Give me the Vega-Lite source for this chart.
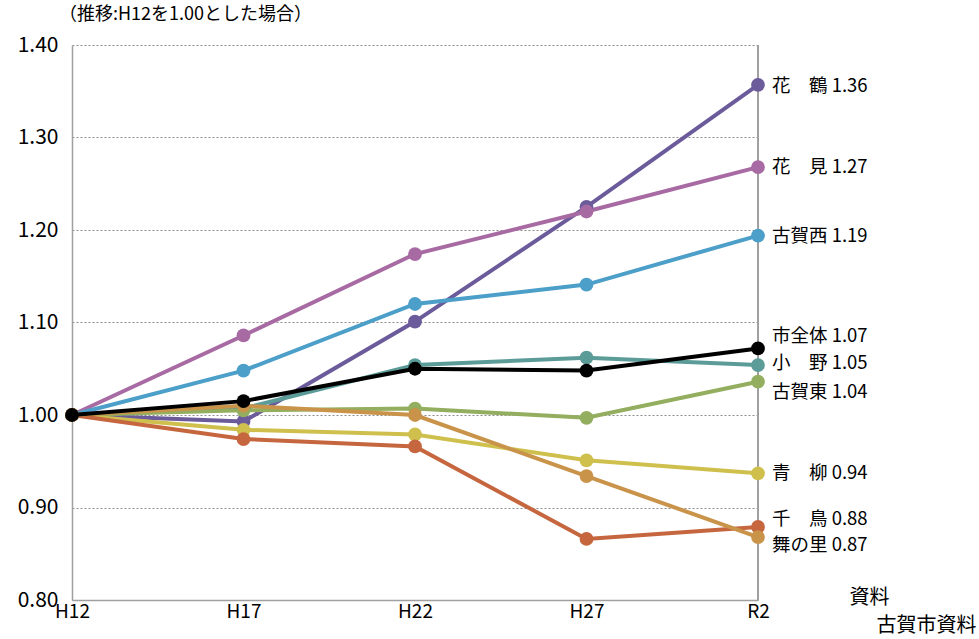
{
  "$schema": "https://vega.github.io/schema/vega-lite/v6.json",
  "width": 686,
  "height": 555,
  "autosize": "none",
  "padding": {"left": 72, "top": 45, "right": 221, "bottom": 39},
  "background": "white",
  "config": {
    "font": "Noto Sans CJK JP",
    "view": {"stroke": null}
  },
  "title": {
    "text": "（推移:H12を1.00とした場合）",
    "anchor": "start",
    "frame": "group",
    "fontSize": 18,
    "fontWeight": "normal",
    "color": "#000000",
    "dx": -13,
    "offset": 10
  },
  "datasets": {
    "series": [
      {"area": "花鶴", "year": "H12", "value": 1.0},
      {"area": "花鶴", "year": "H17", "value": 0.993},
      {"area": "花鶴", "year": "H22", "value": 1.101},
      {"area": "花鶴", "year": "H27", "value": 1.225},
      {"area": "花鶴", "year": "R2", "value": 1.357},
      {"area": "花見", "year": "H12", "value": 1.0},
      {"area": "花見", "year": "H17", "value": 1.086},
      {"area": "花見", "year": "H22", "value": 1.174},
      {"area": "花見", "year": "H27", "value": 1.220},
      {"area": "花見", "year": "R2", "value": 1.268},
      {"area": "古賀西", "year": "H12", "value": 1.0},
      {"area": "古賀西", "year": "H17", "value": 1.048},
      {"area": "古賀西", "year": "H22", "value": 1.120},
      {"area": "古賀西", "year": "H27", "value": 1.141},
      {"area": "古賀西", "year": "R2", "value": 1.194},
      {"area": "小野", "year": "H12", "value": 1.0},
      {"area": "小野", "year": "H17", "value": 1.007},
      {"area": "小野", "year": "H22", "value": 1.054},
      {"area": "小野", "year": "H27", "value": 1.062},
      {"area": "小野", "year": "R2", "value": 1.054},
      {"area": "古賀東", "year": "H12", "value": 1.0},
      {"area": "古賀東", "year": "H17", "value": 1.005},
      {"area": "古賀東", "year": "H22", "value": 1.007},
      {"area": "古賀東", "year": "H27", "value": 0.997},
      {"area": "古賀東", "year": "R2", "value": 1.036},
      {"area": "青柳", "year": "H12", "value": 1.0},
      {"area": "青柳", "year": "H17", "value": 0.984},
      {"area": "青柳", "year": "H22", "value": 0.979},
      {"area": "青柳", "year": "H27", "value": 0.951},
      {"area": "青柳", "year": "R2", "value": 0.937},
      {"area": "千鳥", "year": "H12", "value": 1.0},
      {"area": "千鳥", "year": "H17", "value": 0.974},
      {"area": "千鳥", "year": "H22", "value": 0.966},
      {"area": "千鳥", "year": "H27", "value": 0.866},
      {"area": "千鳥", "year": "R2", "value": 0.879},
      {"area": "舞の里", "year": "H12", "value": 1.0},
      {"area": "舞の里", "year": "H17", "value": 1.010},
      {"area": "舞の里", "year": "H22", "value": 1.000},
      {"area": "舞の里", "year": "H27", "value": 0.934},
      {"area": "舞の里", "year": "R2", "value": 0.868},
      {"area": "市全体", "year": "H12", "value": 1.0},
      {"area": "市全体", "year": "H17", "value": 1.015},
      {"area": "市全体", "year": "H22", "value": 1.050},
      {"area": "市全体", "year": "H27", "value": 1.048},
      {"area": "市全体", "year": "R2", "value": 1.072}
    ],
    "labels": [
      {"area": "花鶴", "label": "花　鶴 1.36", "labelPos": 1.356},
      {"area": "花見", "label": "花　見 1.27", "labelPos": 1.268},
      {"area": "古賀西", "label": "古賀西 1.19", "labelPos": 1.194},
      {"area": "市全体", "label": "市全体 1.07", "labelPos": 1.085},
      {"area": "小野", "label": "小　野 1.05", "labelPos": 1.056},
      {"area": "古賀東", "label": "古賀東 1.04", "labelPos": 1.025},
      {"area": "青柳", "label": "青　柳 0.94", "labelPos": 0.937},
      {"area": "千鳥", "label": "千　鳥 0.88", "labelPos": 0.888},
      {"area": "舞の里", "label": "舞の里 0.87", "labelPos": 0.859}
    ]
  },
  "layer": [
    {
      "data": {"name": "series"},
      "mark": {"type": "rule", "color": "#a0a0a0", "strokeWidth": 1.5},
      "encoding": {
        "x": {
          "datum": "R2",
          "type": "ordinal",
          "scale": {"type": "point", "domain": ["H12", "H17", "H22", "H27", "R2"], "padding": 0},
          "axis": {
            "title": "古賀市資料",
            "titleFont": "Noto Sans CJK JP",
            "titleFontSize": 20,
            "titleFontWeight": "normal",
            "titleColor": "#000000",
            "titleAnchor": "start",
            "titleAlign": "right",
            "titleBaseline": "middle",
            "titleX": 904,
            "titleY": 25,
            "labelAngle": 0,
            "labelFontSize": 19,
            "labelColor": "#000000",
            "labelPadding": 2,
            "ticks": false,
            "domainColor": "#a0a0a0",
            "domainWidth": 1.5,
            "grid": false
          }
        },
        "y": {
          "datum": 1.4,
          "type": "quantitative",
          "scale": {"domain": [0.8, 1.4], "nice": false, "zero": false},
          "axis": {
            "title": "資料",
            "titleFontSize": 20,
            "titleFontWeight": "normal",
            "titleColor": "#000000",
            "titleAngle": 0,
            "titleAlign": "left",
            "titleBaseline": "middle",
            "titleX": 777,
            "titleY": 552,
            "values": [0.8, 0.9, 1.0, 1.1, 1.2, 1.3, 1.4],
            "format": ".2f",
            "labelFontSize": 21,
            "labelColor": "#000000",
            "labelPadding": 14,
            "ticks": false,
            "domainColor": "#a0a0a0",
            "domainWidth": 1.5,
            "grid": true,
            "gridColor": "#8c8c8c",
            "gridDash": [2, 2],
            "gridWidth": 1
          }
        }
      }
    },
    {
      "data": {"name": "series"},
      "transform": [{"filter": "datum.area !== '市全体'"}],
      "mark": {"type": "line", "strokeWidth": 4},
      "encoding": {
        "x": {"field": "year", "type": "ordinal"},
        "y": {"field": "value", "type": "quantitative"},
        "color": {
          "field": "area",
          "type": "nominal",
          "scale": {
            "domain": ["千鳥", "舞の里", "青柳", "古賀東", "小野", "古賀西", "花見", "花鶴", "市全体"],
            "range": ["#c5663e", "#c9944a", "#cfc04e", "#93ae5e", "#5b9b98", "#4b9fc8", "#a86aa3", "#6b5b9b", "#000000"]
          },
          "legend": null
        }
      }
    },
    {
      "data": {"name": "series"},
      "transform": [{"filter": "datum.area !== '市全体'"}],
      "mark": {"type": "circle", "size": 190, "opacity": 1},
      "encoding": {
        "x": {"field": "year", "type": "ordinal"},
        "y": {"field": "value", "type": "quantitative"},
        "color": {"field": "area", "type": "nominal", "legend": null}
      }
    },
    {
      "mark": {"type": "rule", "color": "#404040", "strokeWidth": 3, "strokeDash": [9, 5]},
      "encoding": {"y": {"datum": 1.0, "type": "quantitative"}}
    },
    {
      "data": {"name": "series"},
      "transform": [{"filter": "datum.area === '市全体'"}],
      "mark": {"type": "line", "strokeWidth": 4, "color": "#000000"},
      "encoding": {
        "x": {"field": "year", "type": "ordinal"},
        "y": {"field": "value", "type": "quantitative"}
      }
    },
    {
      "data": {"name": "series"},
      "transform": [{"filter": "datum.area === '市全体'"}],
      "mark": {"type": "circle", "size": 190, "opacity": 1, "color": "#000000"},
      "encoding": {
        "x": {"field": "year", "type": "ordinal"},
        "y": {"field": "value", "type": "quantitative"}
      }
    },
    {
      "data": {"name": "labels"},
      "mark": {"type": "text", "align": "left", "baseline": "middle", "dx": 14, "fontSize": 18.5, "color": "#000000"},
      "encoding": {
        "x": {"datum": "R2", "type": "ordinal"},
        "y": {"field": "labelPos", "type": "quantitative"},
        "text": {"field": "label"},
        "fontWeight": {"condition": {"test": "datum.area === '市全体'", "value": "bold"}, "value": "normal"}
      }
    }
  ]
}
